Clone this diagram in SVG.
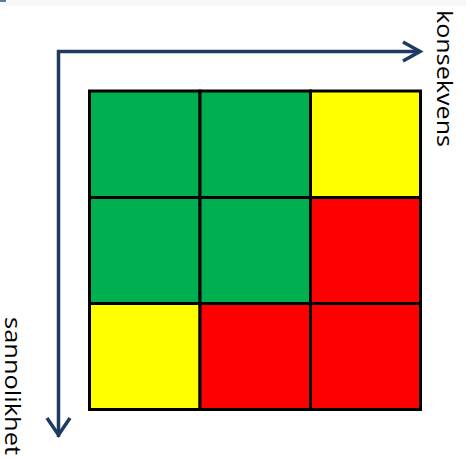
<svg xmlns="http://www.w3.org/2000/svg" width="466" height="459" viewBox="0 0 466 459">
<style>
.cell{stroke:#000;stroke-width:3}
.g{fill:#00B050}.y{fill:#FFFF00}.r{fill:#FF0000}
.axis{fill:none;stroke:#1F3A63;stroke-width:3.5}
.lbl{font-family:"Open Sans","Liberation Sans",sans-serif;font-size:21px;fill:#000}
</style>
<rect x="0" y="0" width="466" height="6" fill="#F8F8F8"/>
<rect x="0" y="0" width="6" height="2" fill="#5A7AA8"/>
<g id="grid">
<g id="c11"><rect class="cell g" x="89.5" y="91" width="110.5" height="106.5"/></g>
<g id="c12"><rect class="cell g" x="200" y="91" width="110.5" height="106.5"/></g>
<g id="c13"><rect class="cell y" x="310.5" y="91" width="110" height="106.5"/></g>
<g id="c21"><rect class="cell g" x="89.5" y="197.5" width="110.5" height="106"/></g>
<g id="c22"><rect class="cell g" x="200" y="197.5" width="110.5" height="106"/></g>
<g id="c23"><rect class="cell r" x="310.5" y="197.5" width="110" height="106"/></g>
<g id="c31"><rect class="cell y" x="89.5" y="303.5" width="110.5" height="106"/></g>
<g id="c32"><rect class="cell r" x="200" y="303.5" width="110.5" height="106"/></g>
<g id="c33"><rect class="cell r" x="310.5" y="303.5" width="110" height="106"/></g>
</g>
<g id="connectors">
<path class="axis" d="M58.5 437 V51.5 H420"/>
<path class="axis" d="M403 42 L420 51.5 L403 61"/>
<path class="axis" d="M47 418 L58.5 435 L70 418"/>
</g>
<g id="label-konsekvens"><text class="lbl" transform="translate(437,10) rotate(90)" textLength="137" lengthAdjust="spacingAndGlyphs">konsekvens</text></g>
<g id="label-sannolikhet"><text class="lbl" transform="translate(5,317) rotate(90)" textLength="138" lengthAdjust="spacingAndGlyphs">sannolikhet</text></g>
</svg>
